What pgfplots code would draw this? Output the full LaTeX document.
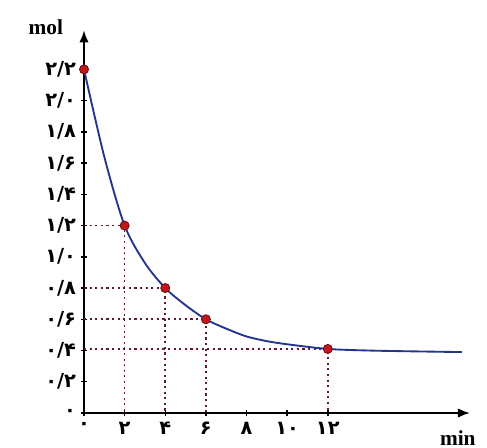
\documentclass[border=0pt]{standalone}
\usepackage{fontspec}
\setmainfont{Liberation Serif}
\newfontfamily\fa{DejaVu Sans}
\usepackage{pgfplots}
\pgfplotsset{compat=1.18}
\usetikzlibrary{arrows.meta}
\definecolor{curveblue}{HTML}{23358E}
\definecolor{dotred}{HTML}{5E1A35}
\definecolor{ptred}{HTML}{C4161C}
\begin{document}
\begin{tikzpicture}
\useasboundingbox (-63pt,-26.25pt) rectangle (302.25pt,309.75pt);
\begin{axis}[
  anchor=origin, at={(0pt,0pt)},
  scale only axis,
  width=289.5pt, height=287pt,
  xmin=0, xmax=19, ymin=0, ymax=2.45,
  axis lines=left,
  axis line style={line width=1.4pt, -{Latex[length=9pt,width=7pt]}},
  clip=false,
  xtick={0,2,4,6,8,10,12},
  xticklabels={۰,۲,۴,۶,۸,۱۰,۱۲},
  ytick={0,0.2,0.4,0.6,0.8,1.0,1.2,1.4,1.6,1.8,2.0,2.2},
  yticklabels={۰,۰/۲,۰/۴,۰/۶,۰/۸,۱/۰,۱/۲,۱/۴,۱/۶,۱/۸,۲/۰,۲/۲},
  tick align=center,
  major tick length=5pt,
  tick style={line width=1.1pt, black},
  ticklabel style={font=\fa\bfseries\fontsize{14.5}{15}\selectfont},
  xticklabel style={yshift=-1pt},
]
% dotted guides
\pgfplotsset{guide/.style={dotred, line width=1.3pt, dash pattern=on 1.6pt off 2.6pt}}
\addplot[guide] coordinates {(0,1.2) (2,1.2) (2,0)};
\addplot[guide] coordinates {(0,0.8) (4,0.8) (4,0)};
\addplot[guide] coordinates {(0,0.6) (6,0.6) (6,0)};
\addplot[guide] coordinates {(0,0.41) (12,0.41) (12,0)};
% curve
\addplot[curveblue, line width=1.4pt, smooth, tension=0.5] coordinates {
  (0,2.2) (1,1.64) (2,1.2) (3,0.96) (4,0.8) (5,0.69) (6,0.6) (7,0.54)
  (8,0.49) (9,0.46) (10,0.44) (12,0.41) (14,0.4) (16,0.395) (18.6,0.39)};
% measured points
\addplot[only marks, mark=*, mark size=3.4pt,
  mark options={fill=ptred, draw=ptred!50!black, line width=0.6pt}]
  coordinates {(0,2.2) (2,1.2) (4,0.8) (6,0.6) (12,0.41)};
\node[anchor=east, font=\bfseries\fontsize{16}{17}\selectfont] at (axis cs:-0.8,2.47) {mol};
\node[font=\bfseries\fontsize{16}{17}\selectfont] at (axis cs:18.4,-0.16) {min};
\end{axis}
\end{tikzpicture}
\end{document}
